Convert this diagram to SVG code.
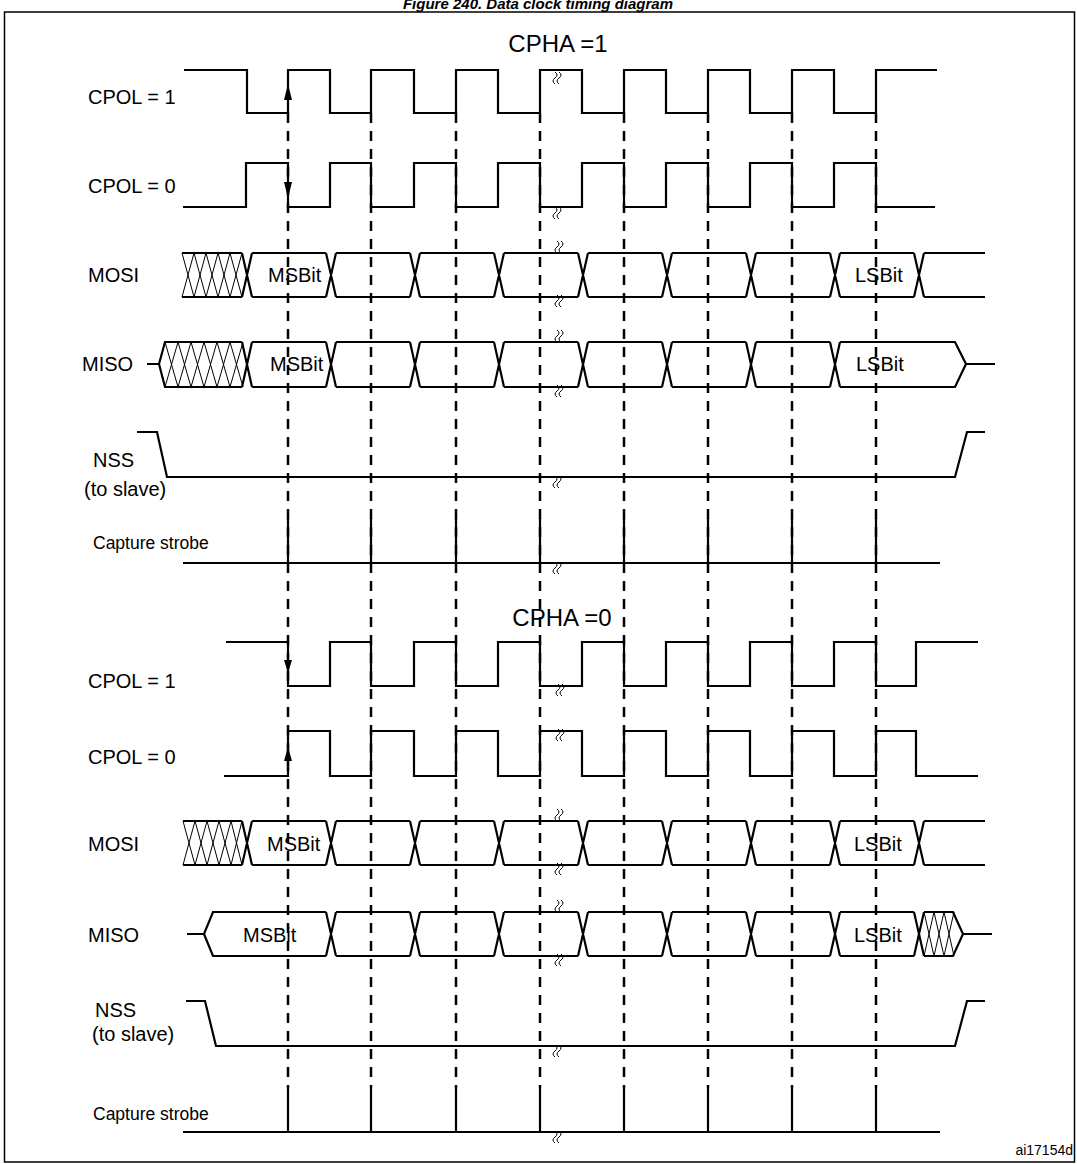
<svg xmlns="http://www.w3.org/2000/svg" width="1077" height="1164" viewBox="0 0 1077 1164">
<defs>
<style>
.s{fill:none;stroke:#000;stroke-width:2.2;stroke-linejoin:miter}
.h{fill:none;stroke:#000;stroke-width:1}
.d{fill:none;stroke:#000;stroke-width:2.5;stroke-dasharray:10 8}
.t{font-family:"Liberation Sans",Arial,sans-serif;font-size:20px;fill:#000}
.ti{font-family:"Liberation Sans",Arial,sans-serif;font-size:24px;fill:#000}
.cs{font-family:"Liberation Sans",Arial,sans-serif;font-size:17.5px;fill:#000}
.a{fill:#000}
</style>
<path id="brk" d="M-3,-6 q4,3 0,6 q-4,3 0,6 M1,-6 q4,3 0,6 q-4,3 0,6" fill="none" stroke="#000" stroke-width="1"/>
</defs>
<rect x="0" y="0" width="1077" height="1164" fill="#fff"/>
<text x="538" y="9" text-anchor="middle" font-family="Liberation Sans,Arial,sans-serif" font-size="15" font-weight="bold" font-style="italic">Figure 240. Data clock timing diagram</text>
<rect x="4.5" y="12" width="1070" height="1150" fill="none" stroke="#000" stroke-width="1.5"/>

<g id="connectors">
<path class="d" d="M288,113V1088M371,113V1088M456,113V1088M540,113V1088M624,113V1088M708,113V1088M792,113V1088M876,113V1088"/>
</g>

<g id="cpha1">
<text class="ti" x="558" y="52" text-anchor="middle">CPHA =1</text>
<text class="t" x="88" y="104">CPOL = 1</text>
<text class="t" x="88" y="193">CPOL = 0</text>
<text class="t" x="88" y="282">MOSI</text>
<text class="t" x="82" y="371">MISO</text>
<text class="t" x="93" y="467">NSS</text>
<text class="t" x="84" y="496">(to slave)</text>
<text class="cs" x="93" y="549">Capture strobe</text>
</g>

<g id="cpol1-a">
<path class="s" d="M184,70H247V113H288V70H330V113H371V70H414V113H456V70H498V113H540V70H582V113H624V70H666V113H708V70H750V113H792V70H834V113H876V70H937"/>
<polygon class="a" points="288,84 284,100 292,100"/>
<use href="#brk" x="558" y="78"/>
</g>
<g id="cpol0-a">
<path class="s" d="M183,207H246V163H288V207H330V163H371V207H414V163H456V207H498V163H540V207H582V163H624V207H666V163H708V207H750V163H792V207H834V163H876V207H935"/>
<polygon class="a" points="288,198 284,182 292,182"/>
<use href="#brk" x="558" y="213"/>
</g>
<g id="mosi-a">
<path class="s" d="M182,253H242M182,297H242 M242,253L252,297M242,297L252,253 M252,253H326M252,297H326 M326,253L336,297M326,297L336,253 M336,253H410M336,297H410 M410,253L420,297M410,297L420,253 M420,253H494M420,297H494 M494,253L504,297M494,297L504,253 M504,253H578M504,297H578 M578,253L588,297M578,297L588,253 M588,253H662M588,297H662 M662,253L672,297M662,297L672,253 M672,253H746M672,297H746 M746,253L756,297M746,297L756,253 M756,253H830M756,297H830 M830,253L840,297M830,297L840,253 M840,253H914M840,297H914 M914,253L924,297M914,297L924,253 M924,253H985M924,297H985"/>
<path class="h" d="M182,297L194,253L206,297L218,253L230,297L242,253 M182,253L194,297L206,253L218,297L230,253L242,297"/>
<text class="t" x="268" y="282">MSBit</text>
<text class="t" x="855" y="282">LSBit</text>
<use href="#brk" x="560" y="247"/><use href="#brk" x="560" y="301"/>
</g>
<g id="miso-a">
<path class="s" d="M147,364H159L165,342H242M159,364L165,387H242 M242,342L252,387M242,387L252,342 M252,342H326M252,387H326 M326,342L336,387M326,387L336,342 M336,342H410M336,387H410 M410,342L420,387M410,387L420,342 M420,342H494M420,387H494 M494,342L504,387M494,387L504,342 M504,342H578M504,387H578 M578,342L588,387M578,387L588,342 M588,342H662M588,387H662 M662,342L672,387M662,387L672,342 M672,342H746M672,387H746 M746,342L756,387M746,387L756,342 M756,342H830M756,387H830 M830,342L840,387M830,387L840,342 M840,342H955L966,364L955,387H840 M966,364H995"/>
<path class="h" d="M165,387L178,342L191,387L204,342L217,387L230,342L243,387 M165,342L178,387L191,342L204,387L217,342L230,387L243,342"/>
<text class="t" x="270" y="371">MSBit</text>
<text class="t" x="856" y="371">LSBit</text>
<use href="#brk" x="560" y="336"/><use href="#brk" x="560" y="391"/>
</g>
<g id="nss-a">
<path class="s" d="M137,432H157L167,477H955L967,432H985"/>
<use href="#brk" x="558" y="482"/>
</g>
<g id="strobe-a">
<path class="s" d="M183,563H940 M288,518V563M371,518V563M456,518V563M540,518V563M624,518V563M708,518V563M792,518V563M876,518V563"/>
<use href="#brk" x="558" y="568"/>
</g>

<g id="cpha0">
<text class="ti" x="562" y="626" text-anchor="middle">CPHA =0</text>
<text class="t" x="88" y="688">CPOL = 1</text>
<text class="t" x="88" y="764">CPOL = 0</text>
<text class="t" x="88" y="851">MOSI</text>
<text class="t" x="88" y="942">MISO</text>
<text class="t" x="95" y="1017">NSS</text>
<text class="t" x="92" y="1041">(to slave)</text>
<text class="cs" x="93" y="1120">Capture strobe</text>
</g>
<g id="cpol1-b">
<path class="s" d="M226,642H288V686H330V642H371V686H414V642H456V686H498V642H540V686H582V642H624V686H666V642H708V686H750V642H792V686H834V642H876V686H916V642H978"/>
<polygon class="a" points="288,673 284,660 292,660"/>
<use href="#brk" x="561" y="690"/>
</g>
<g id="cpol0-b">
<path class="s" d="M224,776H288V731H330V776H371V731H414V776H456V731H498V776H540V731H582V776H624V731H666V776H708V731H750V776H792V731H834V776H876V731H916V776H978"/>
<polygon class="a" points="288,747 284,761 292,761"/>
<use href="#brk" x="561" y="735"/>
</g>
<g id="mosi-b">
<path class="s" d="M183,821H242M183,865H242 M242,821L252,865M242,865L252,821 M252,821H326M252,865H326 M326,821L336,865M326,865L336,821 M336,821H410M336,865H410 M410,821L420,865M410,865L420,821 M420,821H494M420,865H494 M494,821L504,865M494,865L504,821 M504,821H578M504,865H578 M578,821L588,865M578,865L588,821 M588,821H662M588,865H662 M662,821L672,865M662,865L672,821 M672,821H746M672,865H746 M746,821L756,865M746,865L756,821 M756,821H830M756,865H830 M830,821L840,865M830,865L840,821 M840,821H914M840,865H914 M914,821L924,865M914,865L924,821 M924,821H985M924,865H985"/>
<path class="h" d="M183,865L195,821L207,865L219,821L231,865L242,821 M183,821L195,865L207,821L219,865L231,821L242,865"/>
<text class="t" x="267" y="851">MSBit</text>
<text class="t" x="854" y="851">LSBit</text>
<use href="#brk" x="560" y="815"/><use href="#brk" x="560" y="869"/>
</g>
<g id="miso-b">
<path class="s" d="M187,934H204L213,912H326M204,934L213,956H326 M326,912L336,956M326,956L336,912 M336,912H410M336,956H410 M410,912L420,956M410,956L420,912 M420,912H494M420,956H494 M494,912L504,956M494,956L504,912 M504,912H578M504,956H578 M578,912L588,956M578,956L588,912 M588,912H662M588,956H662 M662,912L672,956M662,956L672,912 M672,912H746M672,956H746 M746,912L756,956M746,956L756,912 M756,912H830M756,956H830 M830,912L840,956M830,956L840,912 M840,912H914M840,956H914 M914,912L924,956M914,956L924,912 M924,912H953L963,934L953,956H924 M963,934H992"/>
<path class="h" d="M924,956L934,912L944,956L954,912 M924,912L934,956L944,912L954,956"/>
<text class="t" x="243" y="942">MSBit</text>
<text class="t" x="854" y="942">LSBit</text>
<use href="#brk" x="560" y="906"/><use href="#brk" x="560" y="960"/>
</g>
<g id="nss-b">
<path class="s" d="M186,1001H205L216,1046H955L967,1001H985"/>
<use href="#brk" x="558" y="1051"/>
</g>
<g id="strobe-b">
<path class="s" d="M183,1132H940 M288,1088V1132M371,1088V1132M456,1088V1132M540,1088V1132M624,1088V1132M708,1088V1132M792,1088V1132M876,1088V1132"/>
<use href="#brk" x="558" y="1137"/>
</g>
<text x="1073" y="1155" text-anchor="end" font-family="Liberation Sans,Arial,sans-serif" font-size="14">ai17154d</text>
</svg>
